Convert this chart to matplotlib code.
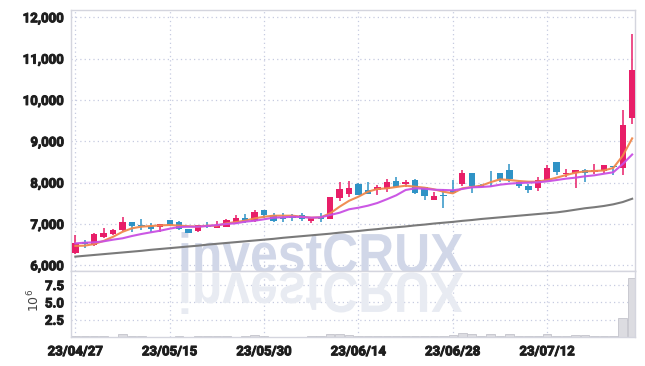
import numpy as np
import matplotlib
matplotlib.use('Agg')
import matplotlib.pyplot as plt
import matplotlib.patheffects as pe
from matplotlib.textpath import TextPath
from matplotlib.patches import PathPatch
from matplotlib.font_manager import FontProperties
from matplotlib.transforms import Affine2D
from matplotlib.ticker import FuncFormatter

dates = ['23/04/27', '23/04/28', '23/05/02', '23/05/03', '23/05/04', '23/05/08', '23/05/09', '23/05/10',
         '23/05/11', '23/05/12', '23/05/15', '23/05/16', '23/05/17', '23/05/18', '23/05/19', '23/05/22',
         '23/05/23', '23/05/24', '23/05/25', '23/05/26', '23/05/30', '23/05/31', '23/06/01', '23/06/02',
         '23/06/05', '23/06/07', '23/06/08', '23/06/09', '23/06/12', '23/06/13', '23/06/14', '23/06/15',
         '23/06/16', '23/06/19', '23/06/20', '23/06/21', '23/06/22', '23/06/23', '23/06/26', '23/06/27',
         '23/06/28', '23/06/29', '23/06/30', '23/07/03', '23/07/04', '23/07/05', '23/07/06', '23/07/07',
         '23/07/10', '23/07/11', '23/07/12', '23/07/13', '23/07/14', '23/07/17', '23/07/18', '23/07/19',
         '23/07/20', '23/07/21', '23/07/24', '23/07/25']

opens = [6290, 6570, 6480, 6680, 6750, 6850, 7050, 6980, 6950, 6930,
         7100, 7040, 6880, 6840, 6980, 6910, 6935, 7040, 7135, 7070,
         7340, 7220, 7150, 7160, 7210, 7080, 7175, 7130, 7635, 7725,
         7975, 7830, 7830, 7855, 8040, 7965, 8060, 7885, 7590, 7700,
         7815, 7960, 8225, 7940, 8110, 8225, 8305, 8015, 7920, 7875,
         8065, 8500, 8210, 8225, 8305, 8257, 8290, 8400, 8345, 9570]
highs = [6730, 6610, 6770, 6910, 6890, 7160, 7050, 7130, 7020, 7000,
         7100, 7070, 6890, 6980, 7050, 7080, 7130, 7210, 7240, 7340,
         7340, 7270, 7270, 7240, 7260, 7160, 7260, 7650, 8010, 8050,
         7980, 8010, 7940, 8090, 8135, 8055, 8090, 7890, 7765, 7845,
         8055, 8300, 8225, 7960, 8290, 8230, 8445, 8030, 7960, 8130,
         8435, 8500, 8335, 8310, 8320, 8460, 8430, 8410, 9760, 11600]
lows = [6270, 6420, 6470, 6650, 6730, 6830, 6810, 6850, 6810, 6810,
        6960, 6850, 6780, 6810, 6900, 6900, 6930, 7000, 7020, 7040,
        7140, 7055, 7055, 7080, 7070, 7020, 7055, 7120, 7555, 7660,
        7700, 7725, 7700, 7780, 7890, 7895, 7715, 7580, 7585, 7395,
        7745, 7925, 7740, 7890, 7900, 8025, 8025, 7875, 7755, 7790,
        8050, 8185, 8130, 7860, 8010, 8210, 8225, 8185, 8185, 9410]
closes = [6530, 6520, 6760, 6780, 6850, 7040, 6960, 6960, 6890, 6990,
          6980, 6870, 6790, 6970, 6930, 6975, 7095, 7150, 7080, 7300,
          7210, 7080, 7120, 7140, 7110, 7150, 7130, 7645, 7845, 7860,
          7700, 7735, 7895, 8015, 7895, 8015, 7755, 7685, 7670, 7685,
          7750, 8225, 7925, 7905, 8100, 8095, 8095, 7920, 7830, 8065,
          8355, 8265, 8240, 8305, 8225, 8305, 8425, 8385, 9395, 10720]

ma_short = [6470, 6475, 6515, 6590, 6690, 6810, 6895, 6935, 6950, 6965,
            6975, 6960, 6945, 6935, 6960, 6958, 7015, 7045, 7080, 7135,
            7175, 7200, 7200, 7200, 7175, 7152, 7160, 7258, 7418, 7560,
            7660, 7780, 7846, 7862, 7894, 7926, 7902, 7878, 7838, 7780,
            7741, 7862, 7894, 7926, 8010, 8080, 8063, 8039, 8023, 8023,
            8063, 8120, 8184, 8240, 8273, 8281, 8295, 8355, 8650, 9070]
ma_mid = [6530, 6547, 6556, 6580, 6620, 6653, 6709, 6757, 6798, 6837,
          6886, 6926, 6934, 6934, 6950, 6975, 7000, 7016, 7055, 7079,
          7113, 7152, 7160, 7176, 7168, 7152, 7160, 7217, 7272, 7355,
          7393, 7442, 7507, 7597, 7693, 7822, 7862, 7853, 7829, 7822,
          7814, 7846, 7886, 7894, 7910, 7950, 7975, 7991, 7999, 8007,
          8031, 8063, 8096, 8120, 8153, 8177, 8215, 8250, 8450, 8680]
ma_long = [6210, 6230, 6250, 6270, 6290, 6310, 6330, 6350, 6375, 6395,
           6415, 6435, 6455, 6475, 6500, 6520, 6540, 6560, 6580, 6600,
           6620, 6640, 6665, 6685, 6705, 6725, 6745, 6765, 6790, 6810,
           6830, 6855, 6875, 6900, 6920, 6940, 6965, 6985, 7010, 7030,
           7050, 7075, 7095, 7120, 7140, 7160, 7180, 7200, 7220, 7240,
           7260, 7280, 7310, 7345, 7380, 7405, 7435, 7475, 7530, 7610]

volume_m = [0.20, 0.08, 0.15, 0.15, 0.06, 0.45, 0.15, 0.15, 0.05, 0.05,
            0.06, 0.15, 0.06, 0.15, 0.15, 0.15, 0.15, 0.06, 0.08, 0.35,
            0.15, 0.05, 0.05, 0.05, 0.06, 0.15, 0.08, 0.45, 0.45, 0.30,
            0.12, 0.12, 0.10, 0.12, 0.10, 0.10, 0.12, 0.10, 0.12, 0.12,
            0.35, 0.60, 0.40, 0.15, 0.40, 0.15, 0.40, 0.15, 0.12, 0.15,
            0.45, 0.15, 0.12, 0.25, 0.25, 0.12, 0.10, 0.10, 2.72, 8.48]

price_ticks = [6000, 7000, 8000, 9000, 10000, 11000, 12000]
vol_ticks = [2.5, 5.0, 7.5]
label_every = 10

UP = '#e81e68'
DOWN = '#2f93c6'
GRID = '#c6cbe0'
FRAME = '#d4d5de'
TXT = '#1e1e1e'

W, H = 645, 366
fig = plt.figure(figsize=(W / 100, H / 100), dpi=100)
L, R = 71 / W, 635 / W
ax = fig.add_axes([L, 1 - 271 / H, R - L, (271 - 10) / H])
axv = fig.add_axes([L, 1 - 337 / H, R - L, (337 - 271) / H], sharex=ax)

x = np.arange(len(dates))
o = np.array(opens, float); c = np.array(closes, float)
hi = np.array(highs, float); lo = np.array(lows, float)
up = c >= o
cols = np.where(up, UP, DOWN)
body_lo = np.minimum(o, c)
body_h = np.maximum(np.abs(c - o), 18)

tick_fp = FontProperties(family=['Roboto', 'DejaVu Sans'], weight='bold', size=9.5)
thick = [pe.withStroke(linewidth=0.7, foreground=TXT)]

for a in (ax, axv):
    a.set_facecolor('white')
    for s in a.spines.values():
        s.set_color(FRAME)
        s.set_linewidth(1.0)
    a.grid(True, color=GRID, linestyle=(0, (1, 2.5)), linewidth=0.9, zorder=0)
    a.set_axisbelow(True)
    a.tick_params(length=0, pad=5, colors=TXT)

# watermark
fp = FontProperties(family='Liberation Sans', weight='bold')
tp = TextPath((0, 0), 'investCRUX', size=100, prop=fp)
v = tp.vertices
xmin, xmax, ymax = v[:, 0].min(), v[:, 0].max(), v[:, 1].max()
sx = (463 - 178) / (xmax - xmin)
sy = 41 / ymax
base = H - 273
wm = PathPatch(tp, transform=Affine2D().translate(-xmin, 0).scale(sx, sy).translate(178, base),
               fc='#d1d7e8', ec='none', zorder=1)
ax.add_patch(wm)
wm.set_clip_path(ax.patch)
wr = PathPatch(tp, transform=Affine2D().translate(-xmin, 0).scale(sx, -sy).translate(178, base),
               fc='#e8ebf2', ec='none', zorder=1)
axv.add_patch(wr)
wr.set_clip_path(axv.patch)

# price
ax.plot(x, ma_long, color='#7a7a7a', lw=1.5, zorder=2)
ax.vlines(x, lo, hi, colors=cols, linewidth=1.1, zorder=3)
ax.bar(x, body_h, bottom=body_lo, width=0.68, color=cols, linewidth=0, zorder=3)
ax.plot(x, ma_short, color='#f0884c', lw=1.5, alpha=0.95, zorder=4)
ax.plot(x, ma_mid, color='#c94fe3', lw=1.5, alpha=0.95, zorder=4)

ax.set_xlim(-0.46, 59.3)
ax.set_ylim(5862, 12176)
ax.set_yticks(price_ticks)
ax.yaxis.set_major_formatter(FuncFormatter(lambda val, p: f'{int(val):,}'))
ax.set_xticks(x[::label_every])
plt.setp(ax.get_xticklabels(), visible=False)
for t in ax.get_yticklabels():
    t.set_fontproperties(tick_fp)
    t.set_path_effects(thick)

# volume
axv.bar(x, volume_m, width=0.9, color='#dcdce1', edgecolor='#c4c4cc', linewidth=0.6, zorder=2)
axv.set_ylim(0, 9.54)
axv.set_yticks(vol_ticks)
axv.set_yticklabels([f'{t:.1f}' for t in vol_ticks])
axv.set_xticks(x[::label_every])
axv.set_xticklabels(dates[::label_every])
for t in axv.get_yticklabels() + axv.get_xticklabels():
    t.set_fontproperties(tick_fp)
    t.set_path_effects(thick)
axv.tick_params(axis='x', pad=6)

fig.text(34 / W, 1 - 300 / H, r'$10^{6}$', rotation=90, ha='center', va='center',
         fontsize=9, color='#444444')

fig.savefig('out.png', dpi=100, facecolor='white')
